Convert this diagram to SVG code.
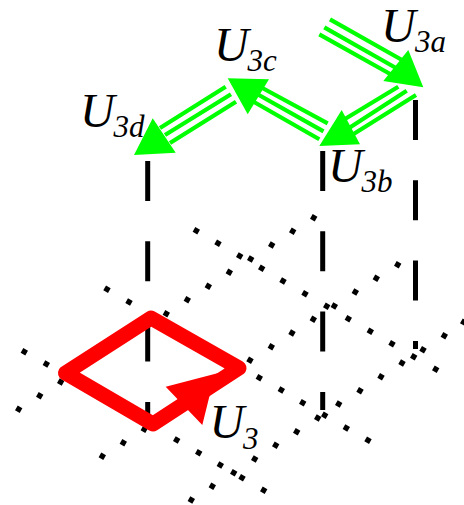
<svg xmlns="http://www.w3.org/2000/svg" width="464" height="505" viewBox="0 0 464 505">
<style>
.u{font-family:"Liberation Serif","Times New Roman",serif;font-style:italic;font-size:48px;fill:#000}
.s{font-family:"Liberation Serif","Times New Roman",serif;font-style:italic;font-size:31px;fill:#000}
.g{stroke:#00ff00;stroke-width:4.2;fill:none}
.h{fill:#00ff00}
.d{fill:none;stroke:#000;stroke-width:5;stroke-dasharray:40 40.3}
</style>
<defs><rect id="p" x="-2.7" y="-2.7" width="5.4" height="5.4" transform="rotate(30)" fill="#000"/></defs>
<rect width="464" height="505" fill="#fff"/>
<g id="dots">
<use href="#p" x="196.3" y="230.7"/><use href="#p" x="218" y="243.3"/><use href="#p" x="239.7" y="256"/><use href="#p" x="261.7" y="268.3"/><use href="#p" x="283" y="281"/><use href="#p" x="305" y="293.7"/><use href="#p" x="326.7" y="306.3"/><use href="#p" x="348.3" y="318.7"/><use href="#p" x="370.3" y="331.3"/><use href="#p" x="392" y="343.7"/><use href="#p" x="413.7" y="356.7"/><use href="#p" x="435.7" y="369.3"/>
<use href="#p" x="107" y="289.3"/><use href="#p" x="129" y="302"/><use href="#p" x="259.3" y="377.7"/><use href="#p" x="281.3" y="390"/><use href="#p" x="302.7" y="402.7"/><use href="#p" x="324.7" y="415.3"/><use href="#p" x="346.3" y="428"/><use href="#p" x="368" y="440.3"/>
<use href="#p" x="24.3" y="351.7"/><use href="#p" x="46.3" y="364"/><use href="#p" x="176.7" y="440"/><use href="#p" x="198.7" y="452.7"/><use href="#p" x="220.3" y="465"/><use href="#p" x="242" y="477.7"/><use href="#p" x="263.7" y="490.3"/>
<use href="#p" x="313.7" y="217.7"/><use href="#p" x="292.7" y="231.3"/><use href="#p" x="271.7" y="245"/><use href="#p" x="250.7" y="259"/><use href="#p" x="229.3" y="272.3"/><use href="#p" x="208.3" y="286.3"/><use href="#p" x="187.3" y="299.7"/><use href="#p" x="166.3" y="313.7"/>
<use href="#p" x="60.7" y="382"/><use href="#p" x="39.7" y="395.7"/><use href="#p" x="18.7" y="409.3"/>
<use href="#p" x="397.7" y="264.7"/><use href="#p" x="376.3" y="278.3"/><use href="#p" x="355.3" y="292"/><use href="#p" x="334.3" y="306"/><use href="#p" x="313.3" y="319.3"/><use href="#p" x="292" y="333"/><use href="#p" x="271.3" y="346.7"/><use href="#p" x="250" y="360.3"/>
<use href="#p" x="144.3" y="429.3"/><use href="#p" x="123.3" y="442.7"/><use href="#p" x="102.3" y="456.3"/>
<use href="#p" x="463.7" y="322.3"/><use href="#p" x="444.3" y="335.7"/><use href="#p" x="423" y="349.7"/><use href="#p" x="402" y="363"/><use href="#p" x="381" y="376.7"/><use href="#p" x="360" y="390.7"/><use href="#p" x="338.7" y="404"/><use href="#p" x="317.7" y="418"/><use href="#p" x="296.7" y="431.7"/><use href="#p" x="275.7" y="445.3"/><use href="#p" x="254.7" y="459"/><use href="#p" x="233.7" y="472.7"/><use href="#p" x="212.3" y="486.3"/><use href="#p" x="191.3" y="500"/>
</g>
<g id="connectors">
<path class="d" d="M147.7 161V415"/>
<path class="d" d="M322.7 151V410"/>
<path class="d" d="M415.5 100V349"/>
<g id="arrow-a"><path class="g" d="M330 19.3L402 60M324.3 27.3L396 68M319.3 34.3L392 75"/><polygon class="h" points="423.3,87.3 408.3,50 383.3,81"/></g>
<g id="arrow-b"><path class="g" d="M398.3 86.7L340 122M406.7 90.7L346 130M416 95L352 135"/><polygon class="h" points="319.3,146 341.7,110 360,144.3"/></g>
<g id="arrow-c"><path class="g" d="M327.7 123.3L255 84M323.5 131.3L250 90M319.3 139.3L247 98"/><polygon class="h" points="227.7,78.3 269,79.3 247.7,114.3"/></g>
<g id="arrow-d"><path class="g" d="M225.7 86.7L160 128M231 94.3L165 135M236 101.7L170 143"/><polygon class="h" points="134,155 152.7,118.3 175.7,152.7"/></g>
</g>
<g id="loop">
<path d="M153 424L65.5 373L151 318L239 368Z" fill="none" stroke="#ff0000" stroke-width="15" stroke-linejoin="round"/>
<polygon points="165.7,386.7 226,371 209.3,396.7 202.3,425" fill="#ff0000"/>
</g>
<g id="labels">
<text class="u" x="381" y="41.7">U</text><text class="s" x="415" y="51.5">3a</text>
<text class="u" x="214" y="61">U</text><text class="s" x="247.5" y="70.5">3c</text>
<text class="u" x="80" y="126.7">U</text><text class="s" x="113.5" y="137">3d</text>
<text class="u" x="328" y="181.7">U</text><text class="s" x="361.5" y="192">3b</text>
<text class="u" x="209.5" y="438">U</text><text class="s" x="243" y="448.5">3</text>
</g>
</svg>
